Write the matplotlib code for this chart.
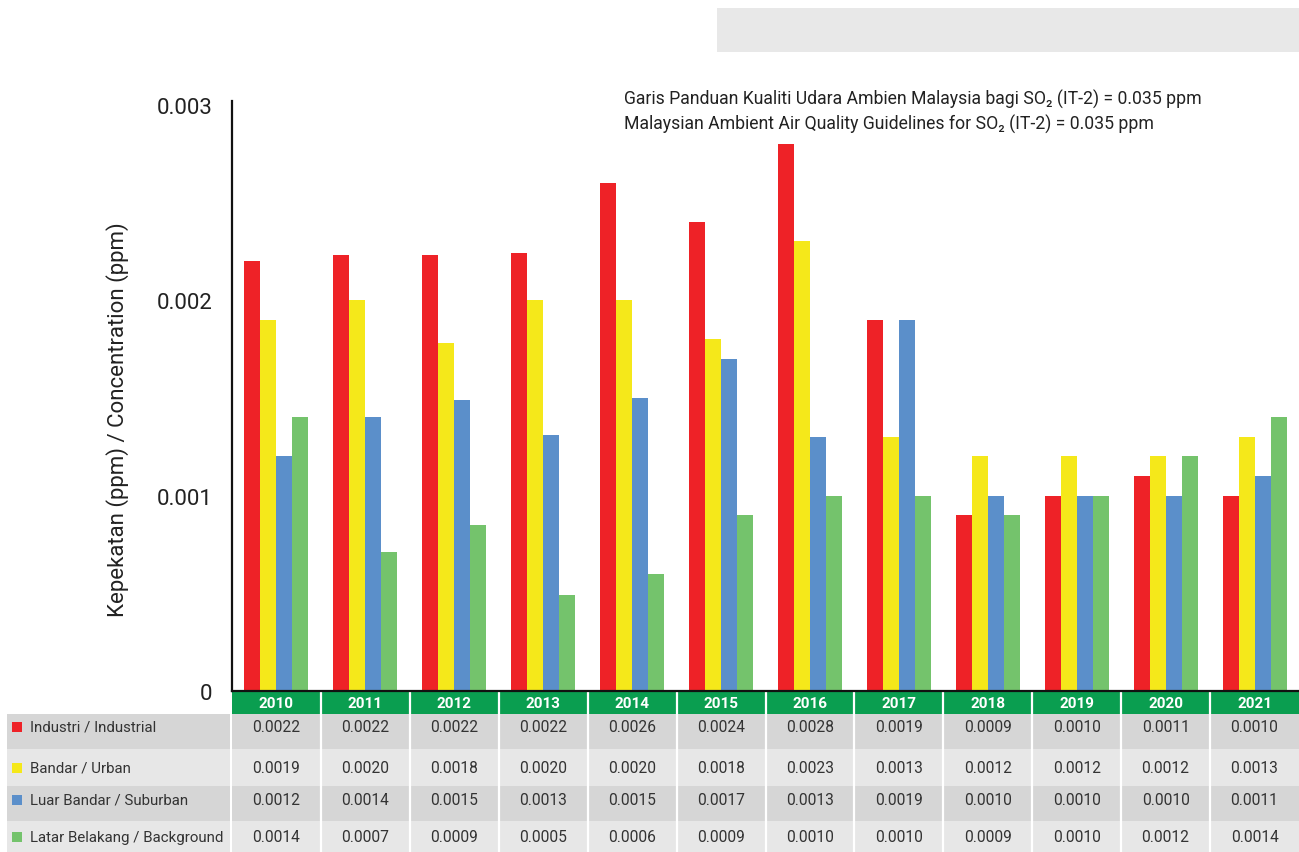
import matplotlib
matplotlib.use("Agg")
import matplotlib.pyplot as plt
import numpy as np
from matplotlib.patches import Rectangle
from matplotlib.transforms import blended_transform_factory

plt.rcParams['font.family'] = ['Roboto', 'DejaVu Sans']

# data
years = ['2010', '2011', '2012', '2013', '2014', '2015',
         '2016', '2017', '2018', '2019', '2020', '2021']
series_names = ['Industri / Industrial', 'Bandar / Urban',
                'Luar Bandar / Suburban', 'Latar Belakang / Background']
industrial = [0.0022, 0.00223, 0.00223, 0.00224, 0.0026, 0.0024,
              0.0028, 0.0019, 0.0009, 0.0010, 0.0011, 0.0010]
urban = [0.0019, 0.0020, 0.00178, 0.0020, 0.0020, 0.0018,
         0.0023, 0.0013, 0.0012, 0.0012, 0.0012, 0.0013]
suburban = [0.0012, 0.0014, 0.00149, 0.00131, 0.0015, 0.0017,
            0.0013, 0.0019, 0.0010, 0.0010, 0.0010, 0.0011]
background = [0.0014, 0.00071, 0.00085, 0.00049, 0.0006, 0.0009,
              0.0010, 0.0010, 0.0009, 0.0010, 0.0012, 0.0014]

# table labels as printed under the chart
industrial_txt = ['0.0022', '0.0022', '0.0022', '0.0022', '0.0026', '0.0024',
                  '0.0028', '0.0019', '0.0009', '0.0010', '0.0011', '0.0010']
urban_txt = ['0.0019', '0.0020', '0.0018', '0.0020', '0.0020', '0.0018',
             '0.0023', '0.0013', '0.0012', '0.0012', '0.0012', '0.0013']
suburban_txt = ['0.0012', '0.0014', '0.0015', '0.0013', '0.0015', '0.0017',
                '0.0013', '0.0019', '0.0010', '0.0010', '0.0010', '0.0011']
background_txt = ['0.0014', '0.0007', '0.0009', '0.0005', '0.0006', '0.0009',
                  '0.0010', '0.0010', '0.0009', '0.0010', '0.0012', '0.0014']

series = [industrial, urban, suburban, background]
series_txt = [industrial_txt, urban_txt, suburban_txt, background_txt]
colors = ['#ee2227', '#f5e81a', '#5b8fca', '#74c36c']

W, H = 1299, 853
fig = plt.figure(figsize=(W / 100, H / 100), dpi=100)

# pixel-space layer for boxes and table
bg = fig.add_axes([0, 0, 1, 1])
bg.set_xlim(0, W)
bg.set_ylim(H, 0)
bg.axis('off')

bg.add_patch(Rectangle((717, 9), W - 717, 44, facecolor='#e8e8e8', edgecolor='none'))

# main chart
ax = fig.add_axes([232 / W, 1 - 692 / H, (W - 232) / W, 590 / H])
ax.patch.set_alpha(0)
x = np.arange(len(years))
bw = 0.18
for k, vals in enumerate(series):
    ax.bar(x + (k - 1.5) * bw, vals, width=bw, color=colors[k], zorder=2)

ax.set_xlim(-0.5, len(years) - 0.5)
ax.set_ylim(0, 0.003018)
ax.set_yticks([0, 0.001, 0.002, 0.003])
ax.set_yticklabels(['0', '0.001', '0.002', '0.003'])
ax.set_xticks([])
ax.tick_params(axis='y', length=0, pad=14, labelsize=16, labelcolor='#222222')
for s in ['top', 'right']:
    ax.spines[s].set_visible(False)
for s in ['left', 'bottom']:
    ax.spines[s].set_linewidth(1.6)
    ax.spines[s].set_color('#111111')
    ax.spines[s].set_zorder(3)

fig.text(118 / W, 1 - 420 / H, 'Kepekatan (ppm) / Concentration (ppm)',
         rotation=90, ha='center', va='center', fontsize=16, color='#222222')

fig.text(624 / W, 1 - 99 / H,
         'Garis Panduan Kualiti Udara Ambien Malaysia bagi SO\u2082 (IT-2) = 0.035 ppm',
         ha='left', va='center', fontsize=12.7, color='#222222')
fig.text(624 / W, 1 - 124 / H,
         'Malaysian Ambient Air Quality Guidelines for SO\u2082 (IT-2) = 0.035 ppm',
         ha='left', va='center', fontsize=12.7, color='#222222')

# table under the chart: x follows the chart categories, y in pixels
tr = blended_transform_factory(ax.transData, bg.transData)
row_bands = [(715, 35), (750, 37), (787, 35), (822, 31)]
row_text_y = [728, 769, 801, 838]
row_colors = ['#d6d6d6', '#e7e7e7', '#d6d6d6', '#e7e7e7']

for i, yr in enumerate(years):
    bg.add_patch(Rectangle((i - 0.5, 693), 1, 22, facecolor='#0a9e50',
                           edgecolor='none', transform=tr))
    bg.text(i, 704, yr, transform=tr, ha='center', va='center',
            fontsize=11, fontweight='bold', color='white')

for r, (y0, h) in enumerate(row_bands):
    bg.add_patch(Rectangle((-0.5, y0), len(years), h, facecolor=row_colors[r],
                           edgecolor='none', transform=tr))
    bg.add_patch(Rectangle((7, y0), 223, h, facecolor=row_colors[r], edgecolor='none'))
    bg.add_patch(Rectangle((12, row_text_y[r] - 5), 10, 10,
                           facecolor=colors[r], edgecolor='none'))
    bg.text(30, row_text_y[r], series_names[r], ha='left', va='center',
            fontsize=10.8, color='#333333')
    for i, t in enumerate(series_txt[r]):
        bg.text(i, row_text_y[r], t, transform=tr, ha='center', va='center',
                fontsize=11.2, color='#333333')

for i in range(1, len(years)):
    bg.plot([i - 0.5, i - 0.5], [693, H], transform=tr, color='white', lw=1.6)

fig.savefig('out.png', dpi=100)
